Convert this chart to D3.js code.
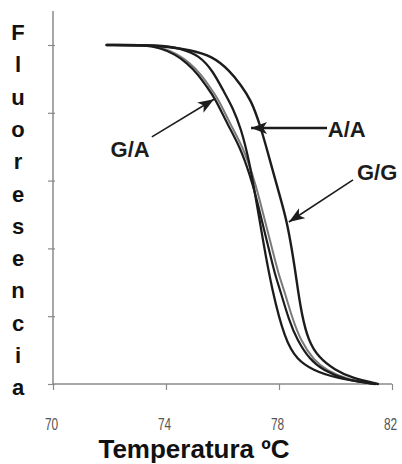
<!DOCTYPE html>
<html><head><meta charset="utf-8">
<script src="https://cdn.jsdelivr.net/npm/d3@7"></script>
<style>html,body{margin:0;padding:0;background:#fff;}svg{display:block;}</style>
</head><body>
<script>
// ---- data ----
const xTicks = [70, 74, 78, 82];
const yTicks = [0, 20, 40, 60, 80, 100];
const yLabel = "Fluoresencia";
const xLabel = "Temperatura ºC";

const tempGG  = [71.9, 73.43, 74.14, 74.85, 75.63, 76.27, 76.65, 77.01, 77.33, 77.58, 77.82, 78.07, 78.28, 78.46, 78.57, 78.67, 78.81, 79.03, 79.38, 79.98, 80.58, 81.5];
const fluorGG = [100, 100, 99.4, 98.5, 96.8, 92.3, 88.2, 83.8, 76.4, 69.0, 61.7, 54.3, 47.8, 39.5, 33.6, 27.7, 20.4, 13.0, 8.0, 4.1, 1.8, 0];

const tempAA  = [71.9, 73.79, 74.50, 75.20, 75.66, 76.05, 76.37, 76.65, 76.94, 77.19, 77.43, 77.75, 78.21, 78.64, 79.20, 79.98, 81.4];
const fluorAA = [100, 100, 99.1, 96.8, 92.3, 86.2, 81.4, 75.5, 66.1, 54.3, 42.5, 27.7, 13.0, 7.1, 4.1, 1.8, 0];

const tempGA1  = [71.9, 73.26, 73.79, 74.32, 74.74, 75.13, 75.45, 75.73, 76.19, 76.62, 76.97, 77.22, 77.43, 77.65, 77.86, 78.04, 78.35, 78.64, 79.10, 79.56, 80.34, 81.4];
const fluorGA1 = [100, 100, 99.1, 97.3, 94.7, 91.4, 87.6, 84.4, 76.4, 69.9, 61.7, 54.3, 46.9, 39.5, 32.2, 27.7, 18.9, 13.0, 7.1, 4.1, 1.2, 0];

const tempGA2  = [71.9, 73.36, 73.89, 74.42, 74.84, 75.23, 75.55, 75.83, 76.29, 76.72, 77.07, 77.32, 77.54, 77.77, 77.99, 78.18, 78.49, 78.76, 79.22, 79.68, 80.44, 81.43];
const fluorGA2 = [100, 100, 99.1, 97.3, 94.7, 91.4, 87.6, 84.4, 76.4, 69.9, 61.7, 54.3, 46.9, 39.5, 32.2, 27.7, 18.9, 13.0, 7.1, 4.1, 1.2, 0];

// annotations: label, label anchor (T,F), arrow tail (T,F), arrow tip (T,F)
const annLabels = ["G/A", "A/A", "G/G"];
const annLabelPos = [[72.73, 67.0], [79.73, 72.9], [80.76, 60.2]];
const annTail = [[73.50, 72.9], [79.70, 75.5], [80.62, 60.2]];
const annTip  = [[75.70, 84.0], [77.01, 75.5], [78.35, 47.8]];
const annAnchor = ["middle", "start", "start"];
const annWidth = [1.6, 2.4, 1.6];

// ---- drawing ----
const W = 402, H = 464;
const svg = d3.select("body").append("svg").attr("width", W).attr("height", H);
svg.append("rect").attr("width", W).attr("height", H).attr("fill", "#fff");

const x = d3.scaleLinear().domain([70, 82]).range([53, 392]);
const y = d3.scaleLinear().domain([0, 110]).range([384, 11.1]);

// y axis
const yAxis = d3.axisLeft(y).tickValues(yTicks).tickSize(5).tickFormat("");
const gy = svg.append("g").attr("transform", "translate(53,0)").call(yAxis);
gy.select(".domain").attr("d", `M0,${y(0)}V${y(110)}`).attr("stroke", "#8a8a8a").attr("stroke-width", 1.5);
gy.selectAll(".tick line").attr("stroke", "#8a8a8a").attr("stroke-width", 1.2).attr("x2", -5).attr("x1", 2);

// x axis
const xAxis = d3.axisBottom(x).tickValues(xTicks).tickSize(6).tickFormat(d3.format("d"));
const gx = svg.append("g").attr("transform", `translate(0,${y(0)})`).call(xAxis);
gx.select(".domain").attr("d", `M${x(70)},0H${x(82)}`).attr("stroke", "#8a8a8a").attr("stroke-width", 1.5);
gx.selectAll(".tick line").attr("stroke", "#8a8a8a").attr("stroke-width", 1.2);
gx.selectAll(".tick text")
  .attr("font-family", "'Liberation Sans Narrow','Arial Narrow','Liberation Sans',sans-serif")
  .attr("font-size", 16.5).attr("fill", "#555").attr("dy", 0).attr("y", 0).attr("x", 0)
  .attr("transform", "translate(-2,46) scale(0.72,1)");

// curves
const line = d3.line().x(d => x(d[0])).y(d => y(d[1])).curve(d3.curveBasis);
const zip = (a, b) => a.map((v, i) => [v, b[i]]);
const series = [
  {t: tempGA2, f: fluorGA2, c: "#7a7a7a", w: 2.0},
  {t: tempGA1, f: fluorGA1, c: "#1c1c1c", w: 2.2},
  {t: tempAA,  f: fluorAA,  c: "#1c1c1c", w: 2.3},
  {t: tempGG,  f: fluorGG,  c: "#1c1c1c", w: 2.4}
];
series.forEach(s => {
  svg.append("path").attr("d", line(zip(s.t, s.f))).attr("fill", "none")
    .attr("stroke", s.c).attr("stroke-width", s.w).attr("stroke-linecap", "round");
});

// arrows
svg.append("defs").append("marker").attr("id", "ah")
  .attr("viewBox", "0 0 16 12").attr("refX", 16).attr("refY", 6)
  .attr("markerWidth", 16).attr("markerHeight", 12).attr("markerUnits", "userSpaceOnUse")
  .attr("orient", "auto")
  .append("path").attr("d", "M0,0L16,6L0,12L4,6Z").attr("fill", "#1c1c1c");

annLabels.forEach((lab, i) => {
  svg.append("line")
    .attr("x1", x(annTail[i][0])).attr("y1", y(annTail[i][1]))
    .attr("x2", x(annTip[i][0])).attr("y2", y(annTip[i][1]))
    .attr("stroke", "#1c1c1c").attr("stroke-width", annWidth[i]).attr("marker-end", "url(#ah)");
  svg.append("text").attr("x", x(annLabelPos[i][0])).attr("y", y(annLabelPos[i][1]))
    .attr("text-anchor", annAnchor[i])
    .attr("font-family", "'Liberation Sans',Arial,sans-serif").attr("font-weight", "bold")
    .attr("font-size", 22).attr("fill", "#1c1c1c").text(lab);
});

// y label: letters stacked
yLabel.split("").forEach((ch, i) => {
  svg.append("text").attr("x", 18).attr("y", 40 + i * 32.3)
    .attr("text-anchor", "middle")
    .attr("font-family", "'Liberation Sans',Arial,sans-serif").attr("font-weight", "bold")
    .attr("font-size", 22).attr("fill", "#111").text(ch);
});

// x label
svg.append("text").attr("x", 194).attr("y", 458).attr("text-anchor", "middle")
  .attr("font-family", "'Liberation Sans',Arial,sans-serif").attr("font-weight", "bold")
  .attr("font-size", 26).attr("fill", "#111").text(xLabel);
</script>
</body></html>
